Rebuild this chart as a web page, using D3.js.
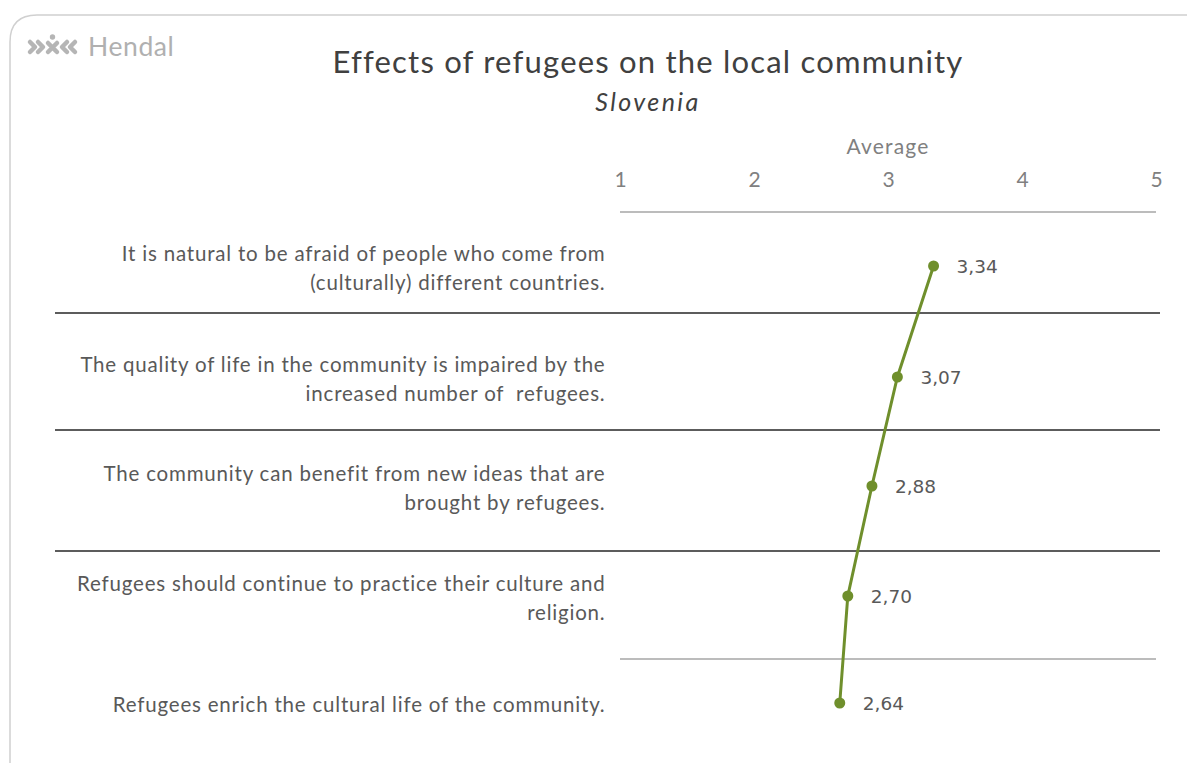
<!DOCTYPE html>
<html><head><meta charset="utf-8">
<script src="https://cdn.jsdelivr.net/npm/d3@7"></script>
<style>
body{margin:0;background:#fff;}
svg{display:block;font-family:Lato,"Open Sans",sans-serif;}
</style></head>
<body>
<svg id="chart" width="1187" height="763"></svg>
<script>
const categories = [
  ["It is natural to be afraid of people who come from", "(culturally) different countries."],
  ["The quality of life in the community is impaired by the", "increased number of  refugees."],
  ["The community can benefit from new ideas that are", "brought by refugees."],
  ["Refugees should continue to practice their culture and", "religion."],
  ["Refugees enrich the cultural life of the community."]
];
const values = [3.34, 3.07, 2.88, 2.70, 2.64];
const tickValues = [1, 2, 3, 4, 5];
const title = "Effects of refugees on the local community";
const subtitle = "Slovenia";
const axisTitle = "Average";

const svg = d3.select("#chart");
const x = d3.scaleLinear().domain([1, 5]).range([620, 1156]);
const yPos = [266, 377, 486, 596, 703];
const y = d3.scaleOrdinal().domain(d3.range(values.length)).range(yPos);

// frame
svg.append("path")
  .attr("d", "M10,763 L10,42 Q10,15 37,15 L1187,15")
  .attr("fill", "none").attr("stroke", "#d0d0d0").attr("stroke-width", 1.5);

// logo
svg.append("text").attr("x", 88).attr("y", 56).attr("font-size", 26.5)
  .attr("letter-spacing", 0.6).attr("fill", "#b0b0b0").text("Hendal");
const lg = svg.append("g").attr("stroke", "#b5b5b5").attr("stroke-width", 4.5).attr("fill", "none")
  .attr("stroke-linecap", "round").attr("stroke-linejoin", "round");
lg.append("path").attr("d", "M30,42 L35,47 L30,52");
lg.append("path").attr("d", "M38,42 L43,47 L38,52");
lg.append("path").attr("d", "M48,43 L57,52 M57,43 L48,52");
lg.append("circle").attr("cx", 52.5).attr("cy", 37).attr("r", 2.7).attr("fill", "#b5b5b5").attr("stroke", "none");
lg.append("path").attr("d", "M67,42 L62,47 L67,52");
lg.append("path").attr("d", "M75,42 L70,47 L75,52");

// titles
svg.append("text").attr("x", 648).attr("y", 73).attr("text-anchor", "middle")
  .attr("font-size", 31).attr("letter-spacing", 1.2).attr("fill", "#404040").text(title);
svg.append("text").attr("x", 648).attr("y", 111).attr("text-anchor", "middle")
  .attr("font-size", 25).attr("letter-spacing", 2.4).attr("font-style", "italic").attr("fill", "#404040").text(subtitle);

// axis
svg.append("text").attr("x", x(3)).attr("y", 154).attr("text-anchor", "middle")
  .attr("font-size", 21).attr("letter-spacing", 1.2).attr("fill", "#808080").text(axisTitle);
const axis = d3.axisTop(x).tickValues(tickValues).tickSize(0).tickPadding(0).tickFormat(d3.format("d"));
const ag = svg.append("g").attr("transform", "translate(0,187)").call(axis);
ag.select(".domain").remove();
ag.selectAll("text").attr("font-size", 21).attr("fill", "#808080").attr("font-family", "Lato, sans-serif");
svg.append("line").attr("x1", x(1)).attr("x2", x(5)).attr("y1", 212).attr("y2", 212)
  .attr("stroke", "#a6a6a6").attr("stroke-width", 1.5);

// separators
const seps = [313, 430, 551];
svg.selectAll("line.sep").data(seps).join("line").attr("class", "sep")
  .attr("x1", 55).attr("x2", 1160).attr("y1", d => d).attr("y2", d => d)
  .attr("stroke", "#262626").attr("stroke-width", 1.5);
svg.append("line").attr("x1", x(1)).attr("x2", x(5)).attr("y1", 659).attr("y2", 659)
  .attr("stroke", "#a6a6a6").attr("stroke-width", 1.5);

// category labels
categories.forEach((lines, i) => {
  const t = svg.append("text").attr("text-anchor", "end").attr("font-size", 20.5)
    .attr("letter-spacing", 0.8).attr("fill", "#595959");
  const n = lines.length;
  const cy = y(i) + 2;
  lines.forEach((ln, j) => {
    t.append("tspan").attr("x", 605.5)
      .attr("y", cy + (j - (n - 1) / 2) * 29 + 7)
      .attr("xml:space", "preserve")
      .text(ln);
  });
});

// line + points
const line = d3.line().x(d => x(d)).y((d, i) => y(i));
svg.append("path").datum(values).attr("d", line)
  .attr("fill", "none").attr("stroke", "#6f8f2c").attr("stroke-width", 3);
svg.selectAll("circle.pt").data(values).join("circle").attr("class", "pt")
  .attr("cx", d => x(d)).attr("cy", (d, i) => y(i)).attr("r", 5.5).attr("fill", "#6f8f2c");
svg.selectAll("text.val").data(values).join("text").attr("class", "val")
  .attr("x", d => x(d) + 23).attr("y", (d, i) => y(i) + 7)
  .attr("fill", "#595959").attr("font-family", "'DejaVu Sans', sans-serif")
  .style("font-size", "18.5px")
  .text(d => d3.format(".2f")(d).replace(".", ","));
</script>
</body></html>
